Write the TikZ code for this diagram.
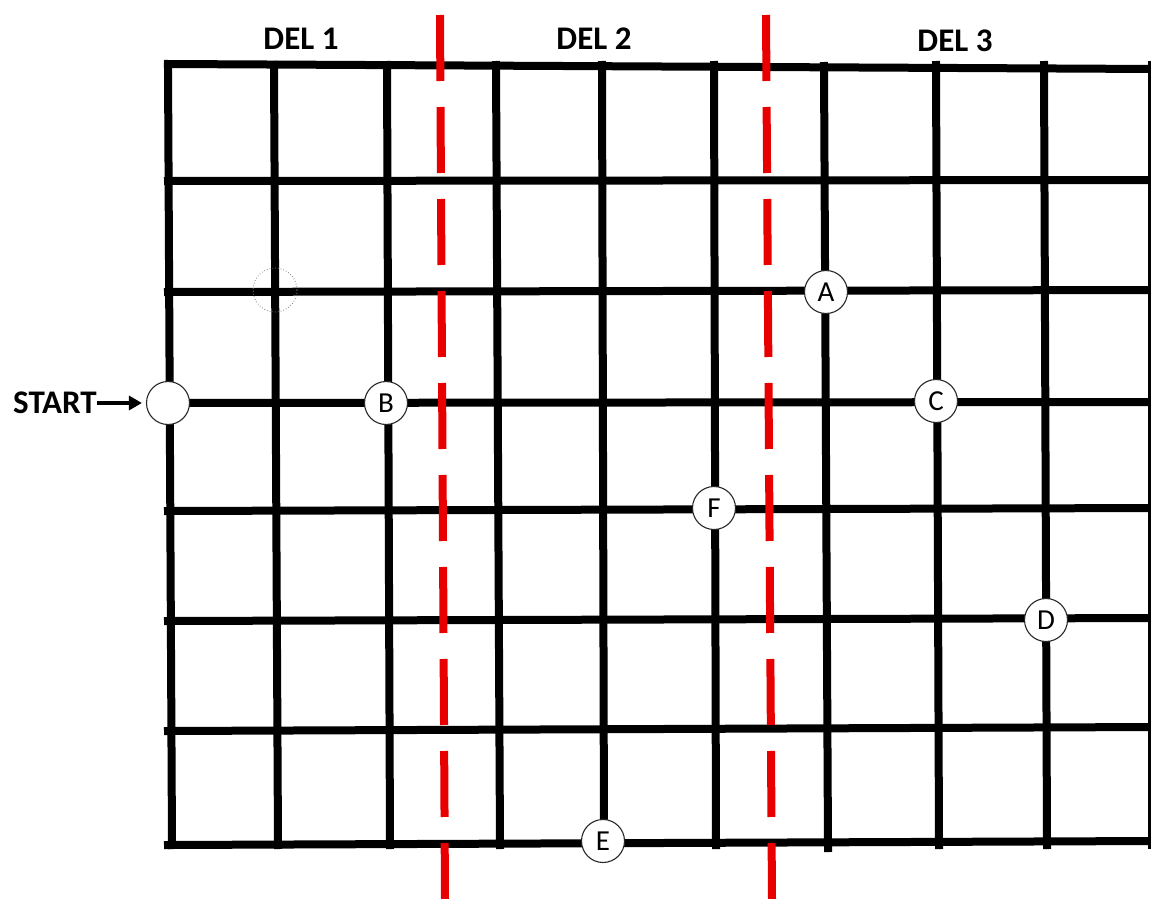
\documentclass[tikz,border=0pt]{standalone}
\usepackage{fontspec}
\setmainfont{Carlito}
\usetikzlibrary{arrows.meta}
\definecolor{delred}{RGB}{232,0,0}
\tikzset{
  gridline/.style={line width=8pt, black, line cap=rect},
  divider/.style={line width=8pt, delred, dash pattern=on 66pt off 26pt},
  spot/.style={circle, draw=black!85, line width=1.1pt, fill=white, minimum size=43pt, inner sep=0pt, font=\fontsize{29}{29}\selectfont},
  heading/.style={font=\fontsize{33}{33}\selectfont\bfseries, inner sep=0pt},
}
\begin{document}
\begin{tikzpicture}[x=1pt,y=-1pt]
\useasboundingbox (0,0) rectangle (1151,899);
% vertical grid lines
\foreach \xt/\xb in {168/172,274/278,387/390,496/500,602/604,714/716,936/939,1044/1047,1152/1152}
  \draw[gridline] (\xt,65) -- (\xb,845);
\draw[gridline] (824,66) -- (828,848);
% horizontal grid lines
\foreach \yl/\yr in {64/69,181/180,292/290,403/402,511/508,621/618,731/727,845/841}
  \draw[gridline] (168,\yl) -- (1155,\yr);
% red dividers
\draw[divider] (440,15) -- (445,899);
\draw[divider] (766,15) -- (772,899);
% headings
\node[heading] (d1) at (301,39) {DEL 1};
\node[heading] (d2) at (594,39) {DEL 2};
\node[heading] (d3) at (955,41) {DEL 3};
% dotted circle
\draw[gray, line width=0.8pt, dotted] (275,290) circle (22);
% points
\node[spot] (s0) at (168,403) {};
\node[spot] (A) at (826,292) {A};
\node[spot] (B) at (386,403) {B};
\node[spot] (C) at (936,401) {C};
\node[spot] (F) at (714,508) {F};
\node[spot] (D) at (1046,620) {D};
\node[spot] (E) at (603,841) {E};
% start
\node[heading, anchor=west] (start) at (13,403) {START};
\draw[line width=3.2pt, -{Triangle[length=13pt,width=14pt]}] (start.east) -- ([xshift=-4pt]s0.west);
\end{tikzpicture}
\end{document}
